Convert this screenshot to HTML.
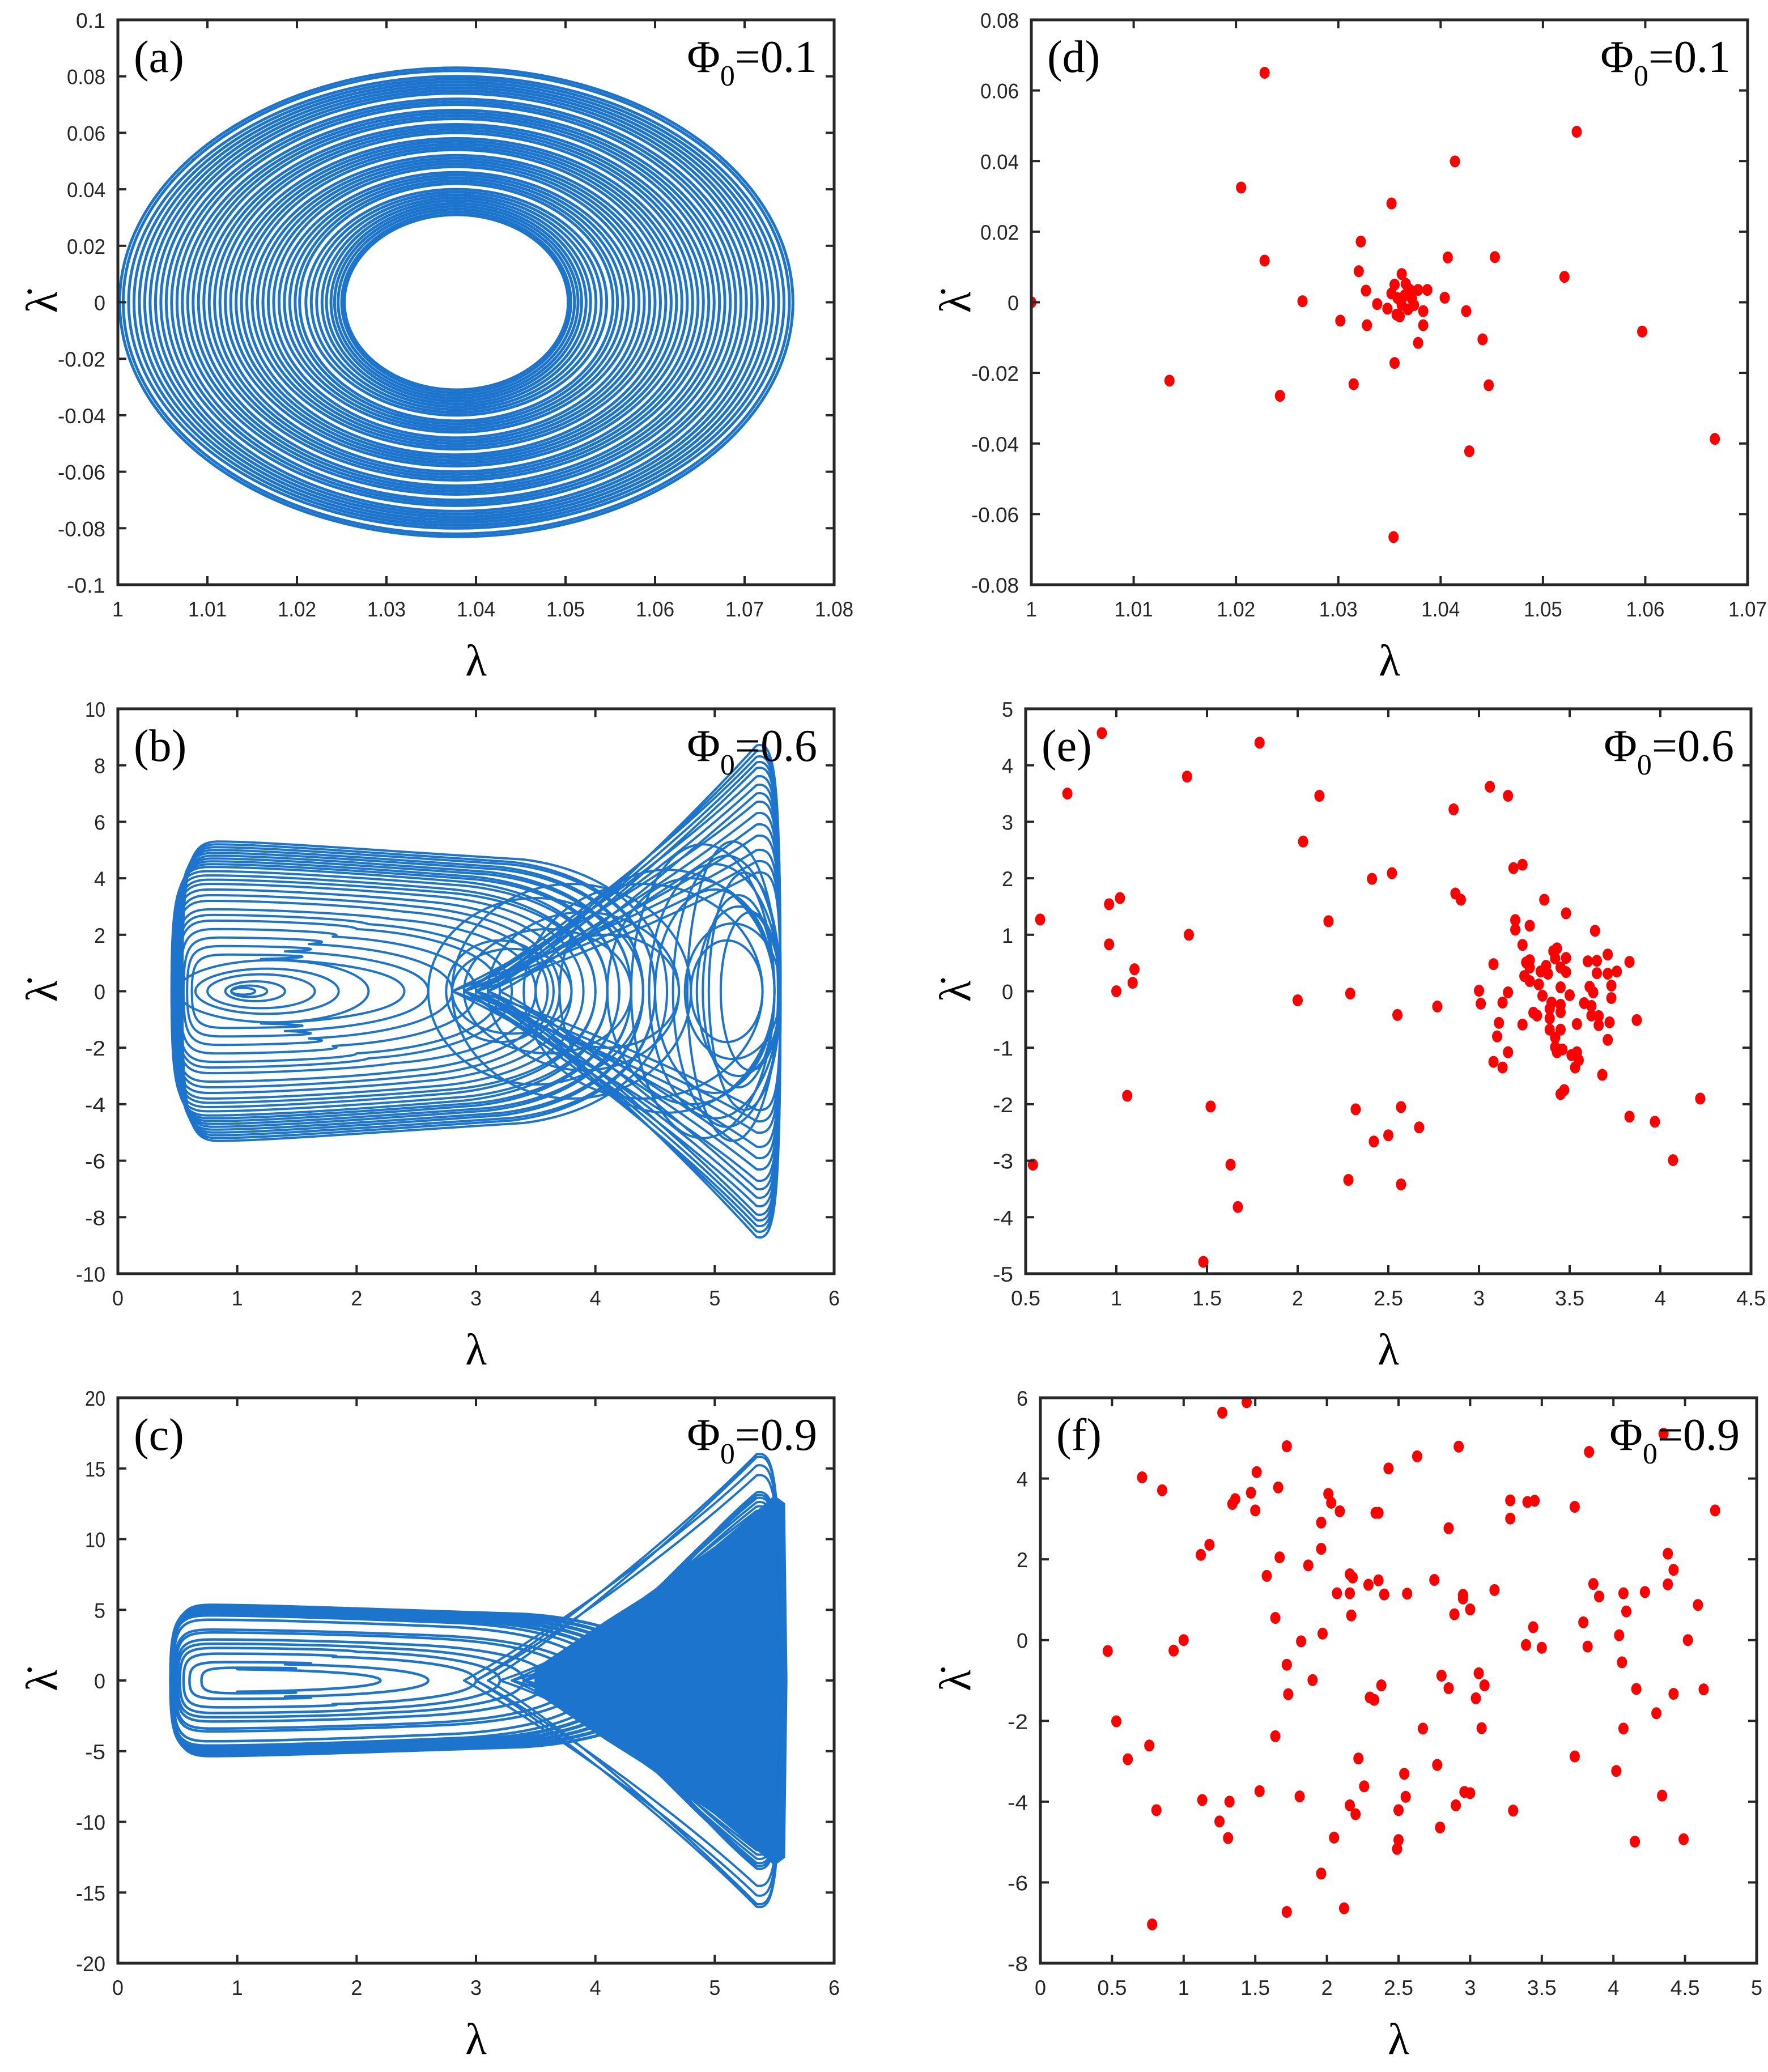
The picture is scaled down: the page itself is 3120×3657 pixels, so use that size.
<!DOCTYPE html>
<html><head><meta charset="utf-8"><style>
html,body{margin:0;padding:0;background:#fff;}
svg{display:block;}
</style></head>
<body>
<svg id="fig" xmlns="http://www.w3.org/2000/svg" width="3120" height="3657" viewBox="0 0 3120 3657"></svg>
<script>
// ---------- data ----------
const aCenterX = 1.0378;
const aRx = [0.0125,0.0128,0.0132,0.0136,0.014,0.0145,0.015,0.0156,0.0162,0.0168,0.0175,0.018,0.0186,0.0192,0.0198,0.0204,0.021,0.0216,0.0222,0.0228,0.0234,0.024,0.0246,0.0252,0.0258,0.0264,0.027,0.0276,0.0282,0.0288,0.0294,0.03,0.0306,0.0312,0.0318,0.0324,0.033,0.0336,0.0342,0.0348,0.0354,0.036,0.0366,0.0372,0.0376];
const aRy = [0.031,0.032,0.033,0.034,0.035,0.036,0.037,0.038,0.039,0.04,0.042,0.043,0.044,0.045,0.046,0.048,0.049,0.05,0.051,0.052,0.054,0.055,0.056,0.057,0.058,0.06,0.061,0.062,0.063,0.065,0.066,0.067,0.068,0.07,0.071,0.072,0.074,0.075,0.076,0.077,0.078,0.079,0.08,0.082,0.083];

const bLeftAmp = [1.3,1.6,1.9,2.2,2.5,2.7,2.9,3.2,3.4,3.6,3.8,3.95,4.1,4.25,4.4,4.5,4.6,4.7,4.8,4.9,5.0,5.1,5.2,5.3];
const bLeftEnd = [2.4,2.6,2.8,3.0,3.2,3.3,3.5,3.6,3.7,3.8,3.9,4.0,4.0,4.1,4.1,4.2,4.2,4.3,4.3,4.4,4.4,4.5,4.5,4.6];
const bLeftEdge = [0.62,0.58,0.55,0.52,0.5,0.49,0.48,0.47,0.47,0.46,0.46,0.46,0.45,0.45,0.46,0.47,0.48,0.49,0.5,0.5,0.51,0.52,0.53,0.54];
const bFunAmp = [4.2,4.6,5.0,5.5,5.9,6.3,6.7,7.0,7.3,7.6,7.9,8.1,8.3,8.5,8.7];
const bFunStart = [3.0,2.9,2.8,2.9,3.1,3.0,2.8,3.2,3.0,2.9,3.1,3.0,2.9,3.0,3.1];
const bRCx = [5.1,5.15,5.2,5.0,5.25,5.1,4.9,5.2,5.3,5.0,4.8,5.15,4.6,4.4];
const bRRx = [0.3,0.4,0.35,0.5,0.3,0.45,0.6,0.3,0.25,0.55,0.7,0.38,0.9,1.0];
const bRRy = [1.8,2.4,3.0,3.6,4.2,4.8,5.2,3.4,2.8,4.5,4.0,5.3,4.3,3.8];
const bMCx = [3.3,3.6,3.9,3.5,4.1,3.2,3.8];
const bMRx = [0.5,0.7,0.8,0.9,0.6,0.45,1.0];
const bMRy = [1.5,2.2,2.8,3.3,2.0,1.8,3.8];
const bInCx = [1.05,1.1,1.15,1.2,1.25,1.3];
const bInRx = [0.1,0.15,0.25,0.45,0.6,0.8];
const bInRy = [0.12,0.2,0.35,0.6,0.8,1.1];

const cLeftAmp = [0.9,1.3,1.9,2.3,2.6,2.9,3.4,3.6,4.3,4.6,4.7,4.8,4.85,4.9,4.95,5.0,5.05,5.1,5.15,5.2,5.25,5.3,5.35];
const cLeftEnd = [2.2,2.6,3.0,3.2,3.4,3.6,3.8,3.9,4.0,4.1,4.2,4.2,4.3,4.3,4.3,4.4,4.4,4.4,4.5,4.5,4.5,4.6,4.6];
const cLeftEdge = [0.7,0.6,0.55,0.52,0.5,0.49,0.48,0.47,0.46,0.45,0.45,0.45,0.44,0.44,0.44,0.44,0.45,0.45,0.45,0.46,0.46,0.47,0.47];
const cFunAmp = [6,7,8,9,10,10.5,11,11.5,12,12.3,12.6,12.9,13.1,13.3,14.5,15.2,15.8,16.0];
const cFunStart = [3.4,3.3,3.5,3.2,3.4,3.6,3.3,3.5,3.4,3.6,3.5,3.7,3.6,3.8,3.0,2.9,3.1,3.0];
const cFillX = [3.5,3.8,4.1,4.4,4.7,5.0,5.3,5.5,5.58,5.6];
const cFillTop = [0.8,2.5,4.2,5.8,7.6,9.4,11.5,13.0,12.5,0];
const cRCx = [5.35,5.3,5.25,5.2,4.9,4.6,4.3];
const cRRx = [0.1,0.18,0.25,0.33,0.45,0.5,0.55];
const cRRy = [1.0,2.0,3.0,4.0,2.5,2.2,1.8];

const dX = [1.0,1.0228,1.0205,1.0135,1.0228,1.0243,1.0265,1.0302,1.0315,1.0322,1.032,1.0327,1.0328,1.0338,1.0352,1.0355,1.0355,1.0362,1.0365,1.0368,1.0372,1.036,1.0378,1.0378,1.0383,1.0383,1.0387,1.0404,1.0407,1.0414,1.0425,1.0428,1.0441,1.0447,1.0453,1.0521,1.0533,1.0597,1.0668,1.0354,1.0348,1.0357,1.0366,1.0352,1.0374,1.037,1.0362,1.0358];
const dY = [0,0.065,0.0325,-0.0222,0.0118,-0.0265,0.0003,-0.0052,-0.0232,0.0172,0.0088,0.0033,-0.0065,-0.0005,0.028,-0.0172,0.005,0.008,0.002,-0.002,0.001,-0.004,0.0035,-0.0115,-0.0025,-0.0065,0.0035,0.0013,0.0127,0.0399,-0.0025,-0.0422,-0.0105,-0.0235,0.0128,0.0072,0.0483,-0.0083,-0.0387,-0.0665,-0.0018,-0.0035,0.0052,0.0025,-0.0008,0.0035,-0.0008,0.0012];

const eX = [0.92,1.79,0.73,1.39,2.12,2.03,2.86,3.06,3.16,3.19,3.24,2.41,2.52,0.58,0.96,1.02,1.40,2.17,2.87,2.90,3.36,3.48,3.20,3.28,3.20,3.64,0.96,1.10,1.09,1.0,2.0,2.29,2.55,2.77,3.0,3.01,3.08,3.16,3.13,3.11,3.10,3.16,3.08,3.13,3.24,3.26,3.28,3.28,3.25,3.28,3.33,3.34,3.38,3.37,3.41,3.43,3.42,3.48,3.45,3.48,3.45,3.35,3.40,3.39,3.45,3.50,3.45,3.30,3.32,3.24,3.39,3.39,3.45,3.42,3.42,3.43,3.46,3.51,3.55,3.53,3.54,3.54,3.58,3.62,3.62,3.66,3.66,3.72,3.71,3.73,3.73,3.61,3.63,3.65,3.71,3.76,3.60,3.65,3.71,3.83,3.87,3.68,3.45,3.47,4.22,3.83,3.97,4.07,1.06,1.52,2.32,2.57,2.67,2.50,2.42,0.54,1.63,2.28,2.57,1.67,1.48];
const eY = [4.57,4.40,3.50,3.80,3.46,2.65,3.22,3.62,3.46,2.18,2.24,1.99,2.09,1.27,1.54,1.65,1.0,1.24,1.73,1.62,1.62,1.38,1.26,1.16,1.09,1.07,0.83,0.39,0.15,0.0,-0.16,-0.04,-0.42,-0.27,0.01,-0.22,0.48,-0.02,-0.2,-0.56,-0.80,-1.08,-1.25,-1.35,0.82,0.51,0.55,0.42,0.27,0.18,0.12,0.35,0.31,0.45,0.71,0.76,0.58,0.59,0.42,0.34,0.07,-0.08,-0.2,-0.31,-0.24,-0.07,-0.37,-0.38,-0.43,-0.59,-0.48,-0.68,-0.68,-0.82,-0.99,-1.08,-1.03,-1.13,-1.22,-1.35,-1.08,-0.58,-0.21,-0.26,-0.43,-0.44,-0.60,-0.55,-0.86,-0.12,0.10,0.08,-0.02,0.32,0.31,0.35,0.53,0.54,0.65,0.52,-0.51,-1.48,-1.82,-1.75,-1.90,-2.22,-2.31,-2.99,-1.85,-2.04,-2.09,-2.05,-2.41,-2.55,-2.66,-3.07,-3.07,-3.34,-3.42,-3.82,-4.79];

const fX = [0.47,0.71,0.85,0.93,1.0,0.53,0.61,0.76,0.81,0.78,1.12,1.18,1.27,1.44,1.34,1.36,1.47,1.50,1.51,1.66,1.72,1.58,1.67,1.64,1.82,1.72,1.73,1.90,1.87,1.96,1.96,1.97,2.01,2.03,2.09,2.07,2.16,2.18,2.16,2.17,2.29,2.36,2.40,2.34,2.36,2.43,2.56,2.63,2.75,2.85,2.92,2.89,2.95,2.95,3.0,3.17,2.80,2.85,2.30,2.33,2.38,2.67,3.06,3.10,3.04,3.08,3.28,3.28,3.40,3.45,3.44,3.39,3.50,3.73,3.83,3.79,3.82,3.86,3.90,3.73,4.02,4.07,4.04,4.09,4.06,4.16,4.07,4.22,4.35,4.38,4.42,4.38,4.30,4.34,4.42,4.52,4.59,4.63,4.71,4.49,4.15,1.13,1.32,1.25,1.31,1.53,1.64,1.81,1.72,1.96,2.05,2.12,2.16,2.20,2.22,2.26,2.50,2.54,2.55,2.50,2.49,2.77,2.79,2.90,2.96,3.0,3.30];
const fY = [-0.27,4.03,3.71,-0.26,0.0,-2.01,-2.95,-2.61,-4.21,-7.04,2.11,2.36,5.63,5.89,3.37,3.49,3.65,3.21,4.16,3.78,4.80,1.59,2.05,0.55,-0.03,-0.61,-1.34,-0.99,1.85,2.26,2.91,0.16,3.62,3.40,3.19,1.16,1.63,1.55,1.16,0.61,1.37,1.48,1.13,3.15,3.15,4.25,1.15,4.55,1.49,2.77,4.79,0.64,1.03,1.12,0.76,1.24,-0.88,-1.19,-1.42,-1.48,-1.12,-2.19,-0.82,-1.12,-1.44,-2.18,3.46,3.01,3.42,3.45,0.32,-0.12,-0.19,3.30,4.66,0.44,-0.16,1.39,1.08,-2.88,-3.24,1.16,0.12,0.71,-0.55,-1.21,-2.19,1.19,5.11,2.14,1.74,1.38,-1.81,-3.85,-1.33,0.0,0.87,-1.22,3.21,-4.93,-4.99,-3.96,-4.0,-4.49,-4.90,-3.74,-2.38,-3.87,-6.73,-5.78,-4.89,-6.64,-4.09,-4.31,-2.93,-3.62,-4.21,-3.31,-3.88,-4.95,-5.17,-3.09,-4.64,-4.09,-3.76,-3.79,-4.22];

const aXTicks = ['1','1.01','1.02','1.03','1.04','1.05','1.06','1.07','1.08'];
const aYTicks = ['-0.1','-0.08','-0.06','-0.04','-0.02','0','0.02','0.04','0.06','0.08','0.1'];
const dXTicks = ['1','1.01','1.02','1.03','1.04','1.05','1.06','1.07'];
const dYTicks = ['-0.08','-0.06','-0.04','-0.02','0','0.02','0.04','0.06','0.08'];
const bXTicks = ['0','1','2','3','4','5','6'];
const bYTicks = ['-10','-8','-6','-4','-2','0','2','4','6','8','10'];
const cYTicks = ['-20','-15','-10','-5','0','5','10','15','20'];
const eXTicks = ['0.5','1','1.5','2','2.5','3','3.5','4','4.5'];
const eYTicks = ['-5','-4','-3','-2','-1','0','1','2','3','4','5'];
const fXTicks = ['0','0.5','1','1.5','2','2.5','3','3.5','4','4.5','5'];
const fYTicks = ['-8','-6','-4','-2','0','2','4','6'];

// ---------- drawing ----------
const NS = 'http://www.w3.org/2000/svg';
const svg = document.getElementById('fig');
const BLUE = '#1c74cc';
function el(tag, parent){ const e = document.createElementNS(NS, tag); parent.appendChild(e); return e; }

function makePanel(id, L, R, T, B, x0, x1, y0, y1, xt, yt, letter, phi, ylabX){
  const g = el('g', svg);
  
  
  const sx = v => L + (v - x0) / (x1 - x0) * (R - L);
  const sy = v => B - (v - y0) / (y1 - y0) * (B - T);
  const cp = el('clipPath', g); cp.setAttribute('id', 'clip-' + id);
  const cr = el('rect', cp); cr.setAttribute('x', L); cr.setAttribute('y', T); cr.setAttribute('width', R - L); cr.setAttribute('height', B - T);
  const plot = el('g', g);
  plot.setAttribute('clip-path', 'url(#clip-' + id + ')');
  
  
  const fr = el('rect', g);
  
  
  fr.setAttribute('x', L); fr.setAttribute('y', T); fr.setAttribute('width', R - L); fr.setAttribute('height', B - T);
  fr.setAttribute('fill', 'none'); fr.setAttribute('stroke', '#262626'); fr.setAttribute('stroke-width', '5');
  xt.forEach((lab, i) => {
    const x = L + i / (xt.length - 1) * (R - L);
    const t1 = el('line', g); t1.setAttribute('x1', x); t1.setAttribute('x2', x); t1.setAttribute('y1', B); t1.setAttribute('y2', B - 15);
    t1.setAttribute('stroke', '#262626'); t1.setAttribute('stroke-width', '4');
    const t2 = el('line', g); t2.setAttribute('x1', x); t2.setAttribute('x2', x); t2.setAttribute('y1', T); t2.setAttribute('y2', T + 15);
    t2.setAttribute('stroke', '#262626'); t2.setAttribute('stroke-width', '4');
    const tx = el('text', g);
    
    
    tx.setAttribute('x', x); tx.setAttribute('y', B + 56); tx.setAttribute('text-anchor', 'middle');
    tx.setAttribute('font-family', 'Liberation Sans, sans-serif'); tx.setAttribute('font-size', '37');
    tx.setAttribute('fill', '#262626'); tx.setAttribute('textLength', lab.length * 16 + 4); tx.setAttribute('lengthAdjust', 'spacingAndGlyphs');
    tx.textContent = lab;
  });
  yt.forEach((lab, i) => {
    const y = B - i / (yt.length - 1) * (B - T);
    const t1 = el('line', g); t1.setAttribute('x1', L); t1.setAttribute('x2', L + 15); t1.setAttribute('y1', y); t1.setAttribute('y2', y);
    t1.setAttribute('stroke', '#262626'); t1.setAttribute('stroke-width', '4');
    const t2 = el('line', g); t2.setAttribute('x1', R); t2.setAttribute('x2', R - 15); t2.setAttribute('y1', y); t2.setAttribute('y2', y);
    t2.setAttribute('stroke', '#262626'); t2.setAttribute('stroke-width', '4');
    const tx = el('text', g);
    
    
    tx.setAttribute('x', L - 22); tx.setAttribute('y', y + 14); tx.setAttribute('text-anchor', 'end');
    tx.setAttribute('font-family', 'Liberation Sans, sans-serif'); tx.setAttribute('font-size', '37');
    tx.setAttribute('fill', '#262626'); tx.setAttribute('textLength', lab.length * 16 + 4); tx.setAttribute('lengthAdjust', 'spacingAndGlyphs');
    tx.textContent = lab;
  });
  const xl = el('text', g);
  
  
  xl.setAttribute('x', (L + R) / 2); xl.setAttribute('y', B + 160); xl.setAttribute('text-anchor', 'middle');
  xl.setAttribute('font-family', 'Liberation Serif, serif'); xl.setAttribute('font-size', '78');
  xl.textContent = 'λ';
  const yl = el('text', g);
  
  
  yl.setAttribute('x', 0); yl.setAttribute('y', 0); yl.setAttribute('text-anchor', 'middle');
  yl.setAttribute('transform', 'translate(' + ylabX + ',' + ((T + B) / 2) + ') rotate(-90)');
  yl.setAttribute('font-family', 'Liberation Serif, serif'); yl.setAttribute('font-size', '78');
  yl.textContent = 'λ\u0307';
  const lt = el('text', g);
  
  
  lt.setAttribute('x', L + 28); lt.setAttribute('y', T + 92);
  lt.setAttribute('font-family', 'Liberation Serif, serif'); lt.setAttribute('font-size', '80');
  lt.textContent = letter;
  const ph = el('text', g);
  
  
  ph.setAttribute('x', R - 30); ph.setAttribute('y', T + 92); ph.setAttribute('text-anchor', 'end');
  ph.setAttribute('font-family', 'Liberation Serif, serif'); ph.setAttribute('font-size', '80');
  const s1 = el('tspan', ph); s1.textContent = 'Φ';
  const s2 = el('tspan', ph); s2.setAttribute('font-size', '52'); s2.setAttribute('dy', '24'); s2.textContent = '0';
  const s3 = el('tspan', ph); s3.setAttribute('dy', '-24'); s3.textContent = '=' + phi;
  return {plot, sx, sy};
}

function path(p, d, name, w){
  const e = el('path', p.plot);
  
  
  e.setAttribute('d', d); e.setAttribute('fill', 'none'); e.setAttribute('stroke', BLUE);
  e.setAttribute('stroke-width', w || 4); e.setAttribute('stroke-linejoin', 'round');
  return e;
}
function ellipse(p, cx, rx, ry, name, w){
  const e = el('ellipse', p.plot);
  
  
  e.setAttribute('cx', p.sx(cx)); e.setAttribute('cy', p.sy(0));
  e.setAttribute('rx', Math.abs(p.sx(cx + rx) - p.sx(cx))); e.setAttribute('ry', Math.abs(p.sy(ry) - p.sy(0)));
  e.setAttribute('fill', 'none'); e.setAttribute('stroke', BLUE); e.setAttribute('stroke-width', w || 4);
}
function P(p, x, y){ return p.sx(x).toFixed(1) + ',' + p.sy(y).toFixed(1); }
function leftLoop(p, A, xe, xl){
  return 'M' + P(p, xe, 0) + ' C' + P(p, xe, A*0.55) + ' ' + P(p, xe-0.6, A*0.82) + ' ' + P(p, xe-1.2, A*0.88) +
    ' C' + P(p, 2, A*0.95) + ' ' + P(p, 1.2, A) + ' ' + P(p, xl+0.3, A) +
    ' C' + P(p, xl+0.05, A) + ' ' + P(p, xl, A*0.85) + ' ' + P(p, xl, 0) +
    ' C' + P(p, xl, -A*0.85) + ' ' + P(p, xl+0.05, -A) + ' ' + P(p, xl+0.3, -A) +
    ' C' + P(p, 1.2, -A) + ' ' + P(p, 2, -A*0.95) + ' ' + P(p, xe-1.2, -A*0.88) +
    ' C' + P(p, xe-0.6, -A*0.82) + ' ' + P(p, xe, -A*0.55) + ' ' + P(p, xe, 0) + 'Z';
}
function funnel(p, A, x0){
  return 'M' + P(p, x0, 0) + ' C' + P(p, x0+0.5, A*0.15) + ' ' + P(p, 4.6, A*0.6) + ' ' + P(p, 5.35, A) +
    ' C' + P(p, 5.5, A*1.02) + ' ' + P(p, 5.55, A*0.9) + ' ' + P(p, 5.55, 0) +
    ' C' + P(p, 5.55, -A*0.9) + ' ' + P(p, 5.5, -A*1.02) + ' ' + P(p, 5.35, -A) +
    ' C' + P(p, 4.6, -A*0.6) + ' ' + P(p, x0+0.5, -A*0.15) + ' ' + P(p, x0, 0) + 'Z';
}
function dots(p, xs, ys, id){
  xs.forEach((x, i) => {
    const c = el('ellipse', p.plot);
    
    
    c.setAttribute('cx', p.sx(x)); c.setAttribute('cy', p.sy(ys[i]));
    c.setAttribute('rx', 9); c.setAttribute('ry', 10.5); c.setAttribute('fill', '#ff0000');
  });
}

const pa = makePanel('a', 208, 1472, 35, 1032, 1, 1.08, -0.1, 0.1, aXTicks, aYTicks, '(a)', '0.1', 100);
aRx.forEach((rx, i) => ellipse(pa, aCenterX, rx, aRy[i], 'orbit-ring', 5));

const pd = makePanel('d', 1820, 3084, 35, 1032, 1, 1.07, -0.08, 0.08, dXTicks, dYTicks, '(d)', '0.1', 1712);
dots(pd, dX, dY, 'd');

const pb = makePanel('b', 208, 1472, 1251, 2248, 0, 6, -10, 10, bXTicks, bYTicks, '(b)', '0.6', 100);
bLeftAmp.forEach((A, i) => path(pb, leftLoop(pb, A, bLeftEnd[i], bLeftEdge[i]), 'left-loop'));
bFunAmp.forEach((A, i) => path(pb, funnel(pb, A, bFunStart[i]), 'funnel-loop'));
bRCx.forEach((cx, i) => ellipse(pb, cx, bRRx[i], bRRy[i], 'right-loop'));
bMCx.forEach((cx, i) => ellipse(pb, cx, bMRx[i], bMRy[i], 'mid-loop'));
bInCx.forEach((cx, i) => ellipse(pb, cx, bInRx[i], bInRy[i], 'inner-spiral'));

const pe = makePanel('e', 1810, 3090, 1251, 2248, 0.5, 4.5, -5, 5, eXTicks, eYTicks, '(e)', '0.6', 1712);
dots(pe, eX, eY, 'e');

const pc = makePanel('c', 208, 1472, 2467, 3465, 0, 6, -20, 20, bXTicks, cYTicks, '(c)', '0.9', 100);
(function(){
  let d = 'M' + P(pc, cFillX[0], 0);
  cFillX.forEach((x, i) => { d += ' L' + P(pc, x, cFillTop[i]); });
  for (let i = cFillX.length - 1; i >= 0; i--) d += ' L' + P(pc, cFillX[i], -cFillTop[i]);
  d += 'Z';
  const e = el('path', pc.plot);
  
  
  e.setAttribute('d', d); e.setAttribute('fill', BLUE); e.setAttribute('stroke', BLUE); e.setAttribute('stroke-width', '4');
})();
cLeftAmp.forEach((A, i) => path(pc, leftLoop(pc, A, cLeftEnd[i], cLeftEdge[i]), 'left-loop', 4.5));
cFunAmp.forEach((A, i) => path(pc, funnel(pc, A, cFunStart[i]), 'funnel-loop', 4));
cRCx.forEach((cx, i) => ellipse(pc, cx, cRRx[i], cRRy[i], 'right-loop'));

const pf = makePanel('f', 1836, 3100, 2467, 3465, 0, 5, -8, 6, fXTicks, fYTicks, '(f)', '0.9', 1712);
dots(pf, fX, fY, 'f');
</script>
</body></html>
